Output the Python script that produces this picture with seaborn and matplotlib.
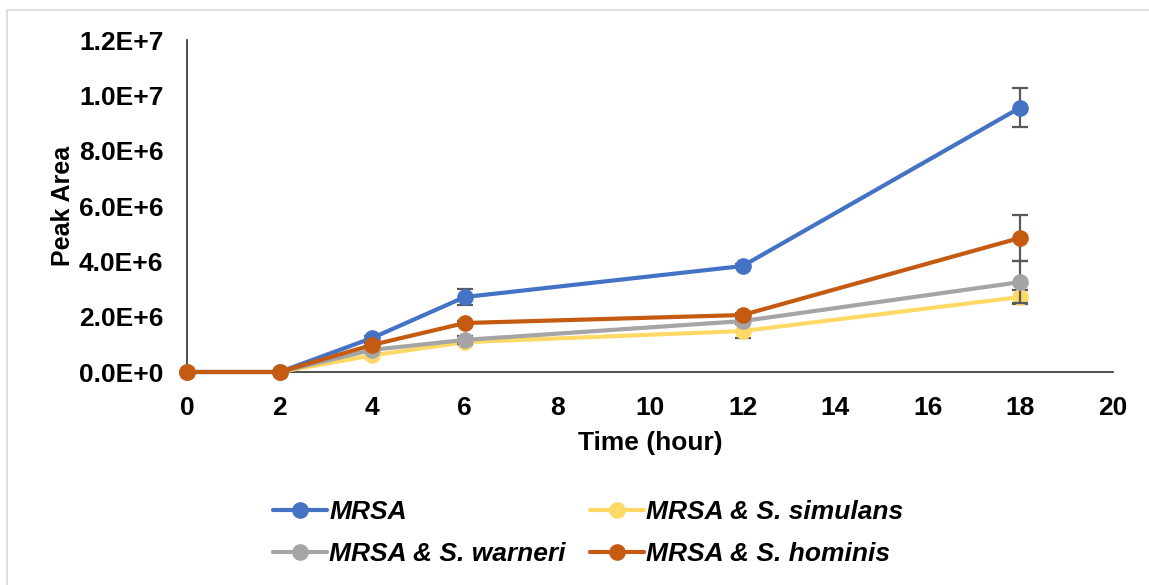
import numpy as np
import pandas as pd
import matplotlib
matplotlib.use("Agg")
import matplotlib.pyplot as plt
from matplotlib.ticker import FuncFormatter, MultipleLocator
from matplotlib.patches import Rectangle
import seaborn as sns

# Sampling times (hours)
time_h = [0, 2, 4, 6, 12, 18]

# Mean peak areas per culture
mrsa = [0.0, 0.0, 1.23e6, 2.71e6, 3.83e6, 9.56e6]
simulans = [0.0, 0.0, 0.60e6, 1.08e6, 1.48e6, 2.71e6]
warneri = [0.0, 0.0, 0.80e6, 1.16e6, 1.84e6, 3.25e6]
hominis = [0.0, 0.0, 0.98e6, 1.77e6, 2.06e6, 4.85e6]

# Standard deviations
mrsa_sd = [0.0, 0.0, 0.08e6, 0.30e6, 0.08e6, 0.69e6]
simulans_sd = [0.0, 0.0, 0.08e6, 0.08e6, 0.25e6, 0.25e6]
warneri_sd = [0.0, 0.0, 0.08e6, 0.15e6, 0.08e6, 0.75e6]
hominis_sd = [0.0, 0.0, 0.08e6, 0.08e6, 0.08e6, 0.82e6]

labels = ["MRSA", "MRSA & S. simulans", "MRSA & S. warneri", "MRSA & S. hominis"]
colors = ["#4472C4", "#FFD966", "#A5A5A5", "#C55A11"]
means = [mrsa, simulans, warneri, hominis]
sds = [mrsa_sd, simulans_sd, warneri_sd, hominis_sd]

x_ticks = [0, 2, 4, 6, 8, 10, 12, 14, 16, 18, 20]

sns.set_theme(style="white")
plt.rcParams["font.family"] = ["Liberation Sans", "DejaVu Sans"]
plt.rcParams["text.color"] = "black"
plt.rcParams["axes.labelcolor"] = "black"
plt.rcParams["xtick.color"] = "black"
plt.rcParams["ytick.color"] = "black"

FS = 19

fig = plt.figure(figsize=(11.49, 5.85), dpi=100)
ax = fig.add_axes([187 / 1149, 1 - 372 / 585, (1113 - 187) / 1149, (372 - 40) / 585])

df = pd.DataFrame({
    "Time": np.tile(time_h, len(labels)),
    "Area": np.concatenate(means),
    "Series": np.repeat(labels, len(time_h)),
})

palette = dict(zip(labels, colors))
for i, (lab, m, s) in enumerate(zip(labels, means, sds)):
    ax.errorbar(time_h, m, yerr=s, fmt="none", ecolor="#595959",
                elinewidth=1.6, capsize=6, capthick=1.6, zorder=2 + 2 * i)
    sns.lineplot(data=df[df["Series"] == lab], x="Time", y="Area",
                 color=palette[lab], marker="o", markersize=12,
                 markeredgewidth=0, linewidth=3, ax=ax, label=lab,
                 zorder=3 + 2 * i, legend=False)

for line in ax.get_lines():
    line.set_clip_on(False)

ax.set_xlim(0, 20)
ax.set_ylim(0, 1.2e7)
ax.set_xticks(x_ticks)
ax.yaxis.set_major_locator(MultipleLocator(2e6))


def sci_fmt(v, _pos):
    if v == 0:
        return "0.0E+0"
    exp = int(np.floor(np.log10(abs(v))))
    mant = v / 10 ** exp
    return f"{mant:.1f}E+{exp}"


ax.yaxis.set_major_formatter(FuncFormatter(sci_fmt))
ax.tick_params(axis="both", length=0, labelsize=FS, pad=17)
for lab in ax.get_xticklabels() + ax.get_yticklabels():
    lab.set_fontweight("bold")

ax.set_xlabel("Time (hour)", fontsize=FS, fontweight="bold", labelpad=8)
ax.set_ylabel("Peak Area", fontsize=18, fontweight="bold", labelpad=3)

for side in ["top", "right"]:
    ax.spines[side].set_visible(False)
for side in ["left", "bottom"]:
    ax.spines[side].set_color("#303030")
    ax.spines[side].set_linewidth(1.2)

# Legend in two rows: MRSA / simulans on top, warneri / hominis below
handles = [plt.Line2D([], [], color=c, marker="o", markersize=12,
                      markeredgewidth=0, linewidth=3) for c in colors]
order = [0, 2, 1, 3]
leg = fig.legend([handles[i] for i in order], [labels[i] for i in order],
                 loc="center", bbox_to_anchor=(588 / 1149, 1 - 533 / 585), ncol=2,
                 frameon=False, prop={"size": FS, "weight": "bold", "style": "italic"},
                 handlelength=2.05, handletextpad=0.1, columnspacing=0.9,
                 labelspacing=0.67)

# Light chart-area border
fig.patches.append(Rectangle((7 / 1149, -0.01), 1.0, 1 - 10 / 585 + 0.01,
                             transform=fig.transFigure, fill=False,
                             edgecolor="#D9D9D9", linewidth=1.2))

fig.savefig("out.png", dpi=100)
